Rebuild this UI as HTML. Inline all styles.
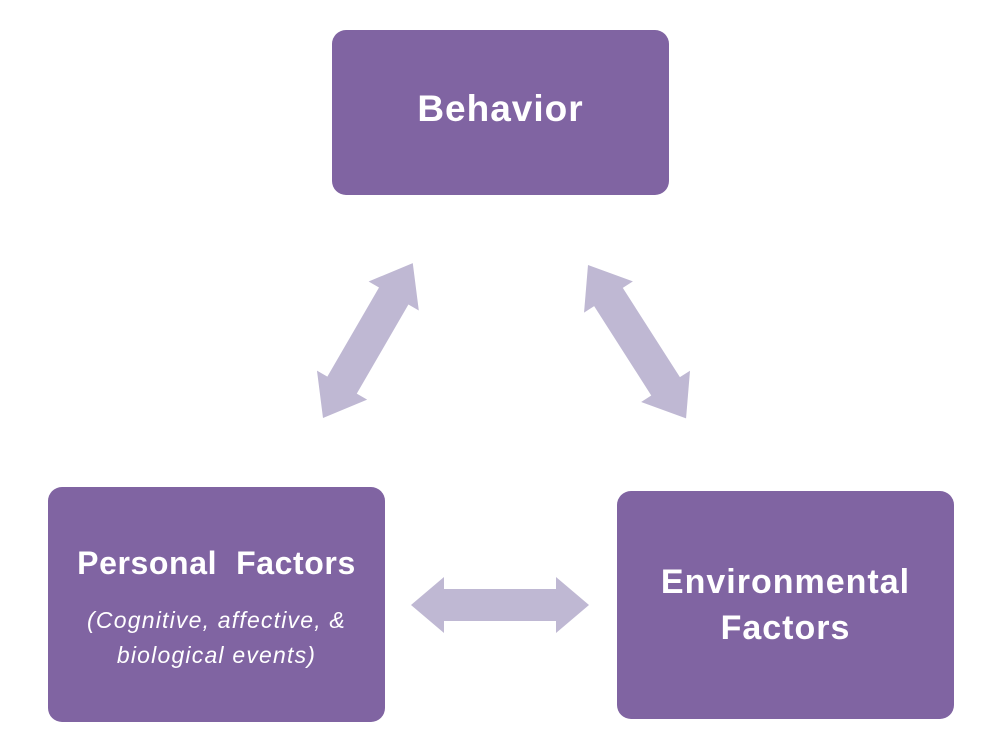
<!DOCTYPE html>
<html><head><style>
html,body{margin:0;padding:0;background:#fff;}
.b{position:absolute;background:#8064a2;border-radius:14px;color:#fff;font-family:"Liberation Sans",sans-serif;text-align:center;}
</style></head><body>
<div style="position:relative;width:1000px;height:750px;overflow:hidden;">
<svg width="1000" height="750" style="position:absolute;left:0;top:0">
<g fill="#bfb8d3">
<g transform="translate(323,418) rotate(-59.9)"><polygon points="0,0 38,-29 38,-17 141,-17 141,-29 179,0 141,29 141,17 38,17 38,29"/></g>
<g transform="translate(588,265) rotate(57.4)"><polygon points="0,0 38,-29 38,-17 144,-17 144,-29 182,0 144,29 144,17 38,17 38,29"/></g>
<g transform="translate(411,605)"><polygon points="0,0 33,-28 33,-16 145,-16 145,-28 178,0 145,28 145,16 33,16 33,28"/></g>
</g>
</svg>
<div class="b" style="left:332px;top:30px;width:337px;height:165px;"><div style="position:absolute;top:59px;width:100%;font-weight:bold;font-size:37px;line-height:40px;letter-spacing:1px">Behavior</div></div>
<div class="b" style="left:48px;top:487px;width:337px;height:235px;">
<div style="position:absolute;top:58px;width:100%;font-weight:bold;font-size:32px;letter-spacing:0.6px">Personal&nbsp; Factors</div>
<div style="position:absolute;top:116px;width:100%;font-style:italic;font-size:23px;line-height:35px;letter-spacing:1.2px">(Cognitive, affective, &amp;<br>biological events)</div>
</div>
<div class="b" style="left:617px;top:491px;width:337px;height:228px;">
<div style="position:absolute;top:68px;width:100%;font-weight:bold;font-size:34px;line-height:46px;letter-spacing:1px">Environmental<br>Factors</div>
</div>
</div>
</body></html>
